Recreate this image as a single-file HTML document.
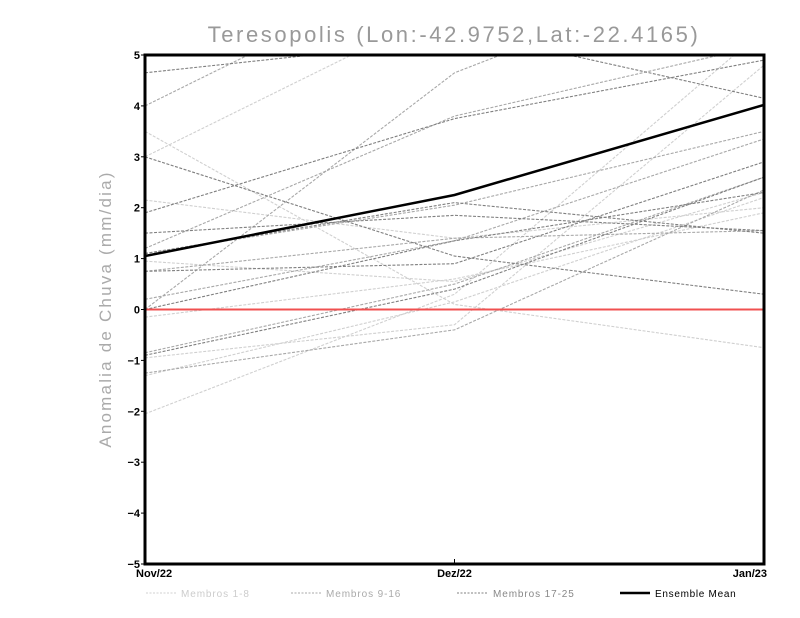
<!DOCTYPE html>
<html><head><meta charset="utf-8"><style>
body{margin:0;background:#fff;}
svg{display:block;font-family:"Liberation Sans",sans-serif;}
</style></head><body>
<svg id="chart" width="800" height="618">
<text x="454" y="42" text-anchor="middle" font-size="22" fill="#999" letter-spacing="2.6">Teresopolis (Lon:-42.9752,Lat:-22.4165)</text>
<text transform="translate(111,309) rotate(-90)" text-anchor="middle" font-size="17" fill="#aaa" letter-spacing="2.2">Anomalia de Chuva (mm/dia)</text>
<defs><clipPath id="clip"><rect x="145" y="55" width="619" height="509"/></clipPath></defs>
<g id="series" clip-path="url(#clip)"></g>
<g id="axes"></g>
<g id="legend">
<line x1="146" y1="593" x2="177" y2="593" stroke="#d0d0d0" stroke-dasharray="2,1.5"/>
<text x="181" y="597" font-size="10" fill="#ccc" letter-spacing="0.9">Membros 1-8</text>
<line x1="291" y1="593" x2="322" y2="593" stroke="#a8a8a8" stroke-dasharray="2,1.5"/>
<text x="326" y="597" font-size="10" fill="#aaa" letter-spacing="0.9">Membros 9-16</text>
<line x1="457" y1="593" x2="488" y2="593" stroke="#808080" stroke-dasharray="2,1.5"/>
<text x="493" y="597" font-size="10" fill="#888" letter-spacing="0.9">Membros 17-25</text>
<line x1="620" y1="593" x2="650" y2="593" stroke="#000" stroke-width="2.5"/>
<text x="655" y="597" font-size="10" fill="#000" letter-spacing="0.7">Ensemble Mean</text>
</g>
</svg>
<script>
const categories = ["Nov/22","Dez/22","Jan/23"];
const yTicks = [-5,-4,-3,-2,-1,0,1,2,3,4,5];
const membersLight = [
 [3.0,6.0,8.0],[3.5,0.1,-0.75],[2.15,1.4,2.0],[0.95,0.55,2.3],
 [-0.95,-0.3,4.8],[-2.05,0.3,5.5],[-1.3,0.15,2.2],[-0.15,0.6,1.9]];
const membersMid = [
 [0.0,4.65,7.0],[1.2,3.8,5.2],[4.0,7.0,8.0],[1.1,2.05,3.5],
 [0.2,1.35,3.35],[-0.85,0.5,2.6],[0.75,1.4,1.55],[-1.25,-0.4,2.35]];
const membersDark = [
 [4.65,5.3,5.8],[3.0,1.05,0.3],[1.9,3.75,4.9],[1.5,1.85,1.55],
 [1.1,2.1,1.5],[0.75,0.9,2.9],[0.0,1.35,2.3],[-0.9,0.4,2.6],[7.0,5.5,4.15]];
const ensembleMean = [1.05,2.25,4.02];

const X0=145,X1=764,Y0=564,Y1=55;
const xs=i=>X0+(X1-X0)*i/(categories.length-1);
const ys=v=>Y0-(v+5)/10*(Y0-Y1);
const NS="http://www.w3.org/2000/svg";
const series=document.getElementById('series'), axes=document.getElementById('axes');
function mk(tag,attrs,parent){const e=document.createElementNS(NS,tag);for(const k in attrs)e.setAttribute(k,attrs[k]);parent.appendChild(e);return e;}
function pts(a){return a.map((v,i)=>xs(i)+','+ys(v)).join(' ');}
[[membersLight,'#d0d0d0','member-light'],[membersMid,'#a8a8a8','member-mid'],[membersDark,'#808080','member-dark']].forEach(([arr,c,n])=>{
 arr.forEach((m,j)=>{
  const p=mk('polyline',{points:pts(m),fill:'none',stroke:c,'stroke-width':1.1,'stroke-dasharray':'3,1.5'},series);
  
  
 });
});
const zl=mk('line',{x1:X0,x2:X1,y1:ys(0),y2:ys(0),stroke:'#f05050','stroke-width':2},series);


const ml=mk('polyline',{points:pts(ensembleMean),fill:'none',stroke:'#000','stroke-width':2.5},series);


const fr=mk('rect',{x:X0,y:Y1,width:X1-X0,height:Y0-Y1,fill:'none',stroke:'#000','stroke-width':3},axes);


yTicks.forEach(t=>{
 mk('line',{x1:X0-4,x2:X0,y1:ys(t),y2:ys(t),stroke:'#000','stroke-width':1},axes);
 const tx=mk('text',{x:X0-5,y:ys(t)+4,'text-anchor':'end','font-size':11,'font-weight':'bold',fill:'#000'},axes);
 tx.textContent=String(t).replace('-','\u2212');
 
 
});
categories.forEach((c,i)=>{
 mk('line',{x1:xs(i),x2:xs(i),y1:Y0,y2:Y0-5,stroke:'#000','stroke-width':1},axes);
 const anchor=i===0?'start':(i===categories.length-1?'end':'middle');
 const xx=i===0?X0-9:(i===categories.length-1?X1+3:xs(i));
 const tx=mk('text',{x:xx,y:Y0+13,'text-anchor':anchor,'font-size':11,'font-weight':'bold',fill:'#000'},axes);
 tx.textContent=c;
 
 
});
</script>
</body></html>
